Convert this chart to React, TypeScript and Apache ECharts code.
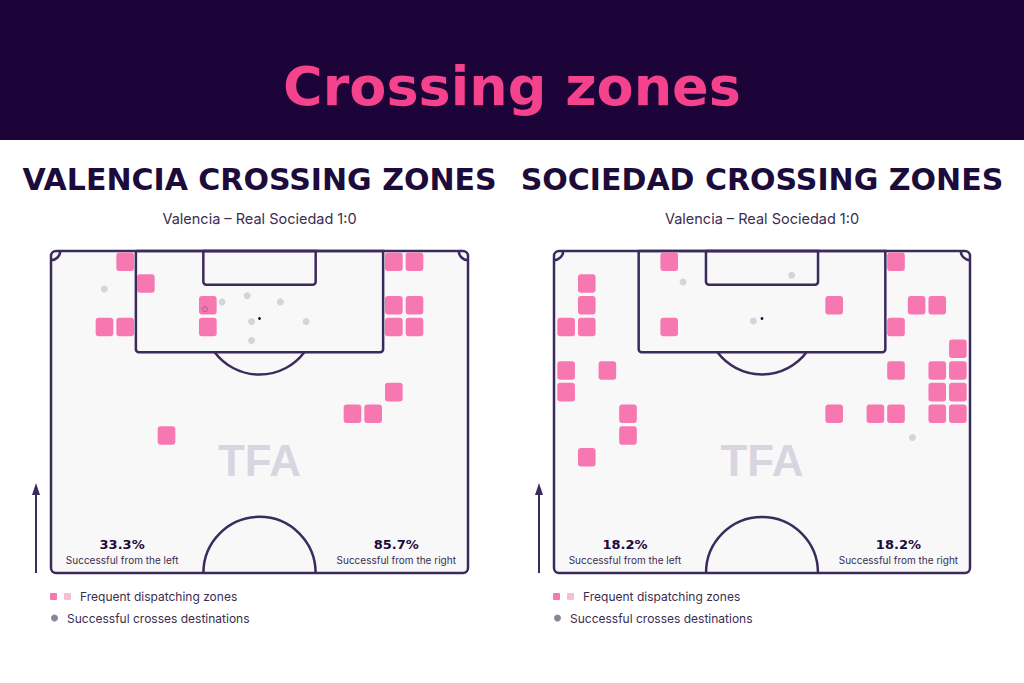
import React, { useEffect, useRef } from "react";
import * as echarts from "echarts";

// ---------- data ----------
const chartTitle = "Crossing zones";
const panelTitles = ["VALENCIA CROSSING ZONES", "SOCIEDAD CROSSING ZONES"];
const matchLabels = ["Valencia – Real Sociedad 1:0", "Valencia – Real Sociedad 1:0"];
const leftSuccess = ["33.3%", "18.2%"];
const rightSuccess = ["85.7%", "18.2%"];
const leftLabel = "Successful from the left";
const rightLabel = "Successful from the right";
const legendLabels = ["Frequent dispatching zones", "Successful crosses destinations"];
const watermark = "TFA";

// frequent dispatching zones: [column 0-19 (left→right), row 0.. (goal line downward)]
const valenciaZones: number[][] = [
  [3, 0], [16, 0], [17, 0],
  [4, 1],
  [7, 2], [16, 2], [17, 2],
  [2, 3], [3, 3], [7, 3], [16, 3], [17, 3],
  [16, 6],
  [14, 7], [15, 7],
  [5, 8],
];
const sociedadZones: number[][] = [
  [5, 0], [16, 0],
  [1, 1],
  [1, 2], [13, 2], [17, 2], [18, 2],
  [0, 3], [1, 3], [5, 3], [16, 3],
  [19, 4],
  [0, 5], [2, 5], [16, 5], [18, 5], [19, 5],
  [0, 6], [18, 6], [19, 6],
  [3, 7], [13, 7], [15, 7], [16, 7], [18, 7], [19, 7],
  [3, 8],
  [1, 9],
];

// successful crosses destinations: [x metres across, y metres from goal line]
const valenciaDestinations: number[][] = [
  [8.7, 6.2], [27.9, 8.3], [32.0, 7.3], [37.4, 8.3], [32.7, 11.5], [41.6, 11.5], [32.7, 14.6],
];
const valenciaCoveredDestinations: number[][] = [[25.1, 9.5]];
const sociedadDestinations: number[][] = [
  [21.1, 5.05], [38.85, 3.96], [32.6, 11.4], [58.6, 30.4],
];

// ---------- geometry / style ----------
const PITCH_W = 68;
const PITCH_H = 52.5;
const CELL_W = 3.37;
const CELL_H = 3.54;
const GRID_X0 = 0.3;

const DARK = "#1c0b3b";
const LINE = "#3b2a5c";
const PINK = "#f777b0";
const DOT = "#cdc9d6";
const BANNER = "#1c0338";
const TITLE_PINK = "#f4428c";

const panels = [
  { left: 51, top: 251, width: 417, height: 322 },
  { left: 554, top: 251, width: 416, height: 322 },
];

function pitchSeries(panel: number) {
  return {
    type: "custom",
    xAxisIndex: panel,
    yAxisIndex: panel,
    z: 1,
    silent: true,
    data: [[0, 0]],
    renderItem: (_params: any, api: any) => {
      const c = (x: number, y: number) => api.coord([x, y]);
      const tl = c(0, 0);
      const br = c(PITCH_W, PITCH_H);
      const sx = (br[0] - tl[0]) / PITCH_W;
      const line = { stroke: LINE, lineWidth: 2.5, fill: "none" };
      const box = (x0: number, y0: number, x1: number, y1: number, r: any) => {
        const a = c(x0, y0);
        const b = c(x1, y1);
        return {
          type: "rect",
          shape: { x: a[0], y: a[1], width: b[0] - a[0], height: b[1] - a[1], r },
          style: line,
        };
      };
      const spot = c(34, 11);
      const dA = Math.asin((16.5 - 11) / 9.15);
      const centre = c(34, PITCH_H);
      const txt = (text: string, x: number, y: number, size: number, weight: string, fill: string, family: string) => ({
        type: "text",
        style: {
          text, x, y, fill,
          fontSize: size, fontWeight: weight, fontFamily: family,
          align: "center", verticalAlign: "middle",
          textAlign: "center", textVerticalAlign: "middle",
        },
      });
      const wm = c(34, 34.2);
      const sL = c(11.6, 47.8);
      const sR = c(56.3, 47.8);
      const lL = c(11.6, 50.4);
      const lR = c(56.3, 50.4);
      return {
        type: "group",
        children: [
          {
            type: "rect",
            shape: { x: tl[0], y: tl[1], width: br[0] - tl[0], height: br[1] - tl[1], r: 5 },
            style: { fill: "#f8f8f9", stroke: "none" },
          },
          txt(watermark, wm[0], wm[1], 44, "bold", "#d9d5e0", '"Liberation Sans", Arial, sans-serif'),
          box(34 - 20.16, 0, 34 + 20.16, 16.5, [0, 0, 3, 3]),
          box(34 - 9.16, 0, 34 + 9.16, 5.5, [0, 0, 3, 3]),
          {
            type: "arc",
            shape: { cx: spot[0], cy: spot[1], r: 9.15 * sx, startAngle: dA, endAngle: Math.PI - dA, clockwise: true },
            style: line,
          },
          {
            type: "arc",
            shape: { cx: centre[0], cy: centre[1], r: 9.15 * sx, startAngle: Math.PI, endAngle: 2 * Math.PI, clockwise: true },
            style: line,
          },
          {
            type: "arc",
            shape: { cx: tl[0], cy: tl[1], r: 1.5 * sx, startAngle: 0, endAngle: Math.PI / 2, clockwise: true },
            style: line,
          },
          {
            type: "arc",
            shape: { cx: br[0], cy: tl[1], r: 1.5 * sx, startAngle: Math.PI / 2, endAngle: Math.PI, clockwise: true },
            style: line,
          },
          { type: "circle", shape: { cx: spot[0], cy: spot[1], r: 1.4 }, style: { fill: DARK } },
          {
            type: "rect",
            shape: { x: tl[0], y: tl[1], width: br[0] - tl[0], height: br[1] - tl[1], r: 5 },
            style: line,
          },
          txt(leftSuccess[panel], sL[0], sL[1], 13, "bold", DARK, '"DejaVu Sans", sans-serif'),
          txt(rightSuccess[panel], sR[0], sR[1], 13, "bold", DARK, '"DejaVu Sans", sans-serif'),
          txt(leftLabel, lL[0], lL[1], 10, "normal", "#3a2d50", "Inter, sans-serif"),
          txt(rightLabel, lR[0], lR[1], 10, "normal", "#3a2d50", "Inter, sans-serif"),
        ],
      };
    },
  };
}

function zoneSeries(panel: number, zones: number[][]) {
  return {
    type: "custom",
    xAxisIndex: panel,
    yAxisIndex: panel,
    z: 3,
    silent: true,
    data: zones,
    renderItem: (_params: any, api: any) => {
      const col = api.value(0);
      const row = api.value(1);
      const p0 = api.coord([GRID_X0 + col * CELL_W, row * CELL_H]);
      const p1 = api.coord([GRID_X0 + (col + 1) * CELL_W, (row + 1) * CELL_H]);
      return {
        type: "rect",
        shape: { x: p0[0] + 1.5, y: p0[1] + 1.6, width: p1[0] - p0[0] - 3, height: p1[1] - p0[1] - 3.2, r: 3 },
        style: { fill: PINK },
      };
    },
  };
}

function dotSeries(panel: number, pts: number[][]) {
  return {
    type: "scatter",
    xAxisIndex: panel,
    yAxisIndex: panel,
    z: 4,
    silent: true,
    symbol: "circle",
    symbolSize: 7,
    itemStyle: { color: DOT },
    data: pts,
  };
}

export default function App() {
  const ref = useRef<HTMLDivElement>(null);
  useEffect(() => {
    if (!ref.current) return;
    const chart = echarts.init(ref.current, undefined, { renderer: "svg" });
    const graphics: any[] = [
      { type: "rect", shape: { x: 0, y: 0, width: 1024, height: 140 }, style: { fill: BANNER } },
      {
        type: "text",
        style: {
          text: chartTitle, x: 512, y: 86, fill: TITLE_PINK,
          font: 'bold 54px "DejaVu Sans", sans-serif',
          align: "center", verticalAlign: "middle", textAlign: "center", textVerticalAlign: "middle",
        },
      },
    ];
    panels.forEach((p, i) => {
      const cx = p.left + p.width / 2;
      graphics.push(
        {
          type: "text",
          style: {
            text: panelTitles[i], x: cx, y: 179, fill: DARK,
            font: 'bold 30px "DejaVu Sans", sans-serif',
            align: "center", verticalAlign: "middle", textAlign: "center", textVerticalAlign: "middle",
          },
        },
        {
          type: "text",
          style: {
            text: matchLabels[i], x: cx, y: 218, fill: "#3a2d50",
            font: '14.5px Inter, sans-serif',
            align: "center", verticalAlign: "middle", textAlign: "center", textVerticalAlign: "middle",
          },
        },
        {
          type: "line",
          shape: { x1: p.left - 15, y1: p.top + p.height, x2: p.left - 15, y2: p.top + 242 },
          style: { stroke: LINE, lineWidth: 2 },
        },
        {
          type: "polygon",
          shape: { points: [[p.left - 15, p.top + 232], [p.left - 19, p.top + 244], [p.left - 11, p.top + 244]] },
          style: { fill: LINE },
        },
        { type: "rect", shape: { x: p.left - 1, y: 593, width: 7, height: 7, r: 1 }, style: { fill: PINK } },
        { type: "rect", shape: { x: p.left + 13, y: 593, width: 7, height: 7, r: 1 }, style: { fill: "#f9bcd7" } },
        {
          type: "text",
          style: {
            text: legendLabels[0], x: p.left + 29, y: 596.5, fill: "#3a2d50",
            font: '12px Inter, sans-serif',
            align: "left", verticalAlign: "middle", textAlign: "left", textVerticalAlign: "middle",
          },
        },
        { type: "circle", shape: { cx: p.left + 3.5, cy: 618, r: 3.5 }, style: { fill: "#8c8499" } },
        {
          type: "text",
          style: {
            text: legendLabels[1], x: p.left + 16, y: 618, fill: "#3a2d50",
            font: '12px Inter, sans-serif',
            align: "left", verticalAlign: "middle", textAlign: "left", textVerticalAlign: "middle",
          },
        }
      );
    });

    chart.setOption({
      animation: false,
      backgroundColor: "#ffffff",
      grid: panels.map((p) => ({ left: p.left, top: p.top, width: p.width, height: p.height })),
      xAxis: panels.map((_p, i) => ({ gridIndex: i, type: "value", min: 0, max: PITCH_W, show: false })),
      yAxis: panels.map((_p, i) => ({ gridIndex: i, type: "value", min: 0, max: PITCH_H, inverse: true, show: false })),
      graphic: graphics,
      series: [
        pitchSeries(0),
        pitchSeries(1),
        zoneSeries(0, valenciaZones),
        zoneSeries(1, sociedadZones),
        dotSeries(0, valenciaDestinations),
        {
          type: "scatter",
          xAxisIndex: 0,
          yAxisIndex: 0,
          z: 5,
          silent: true,
          symbolSize: 5,
          itemStyle: { color: "rgba(0,0,0,0)", borderColor: "#9a4d86", borderWidth: 1 },
          data: valenciaCoveredDestinations,
        },
        dotSeries(1, sociedadDestinations),
      ],
    });
    return () => chart.dispose();
  }, []);
  return (
    <div
      ref={ref}
      style={{ position: "fixed", left: 0, top: 0, width: 1024, height: 683, background: "#fff" }}
    />
  );
}
